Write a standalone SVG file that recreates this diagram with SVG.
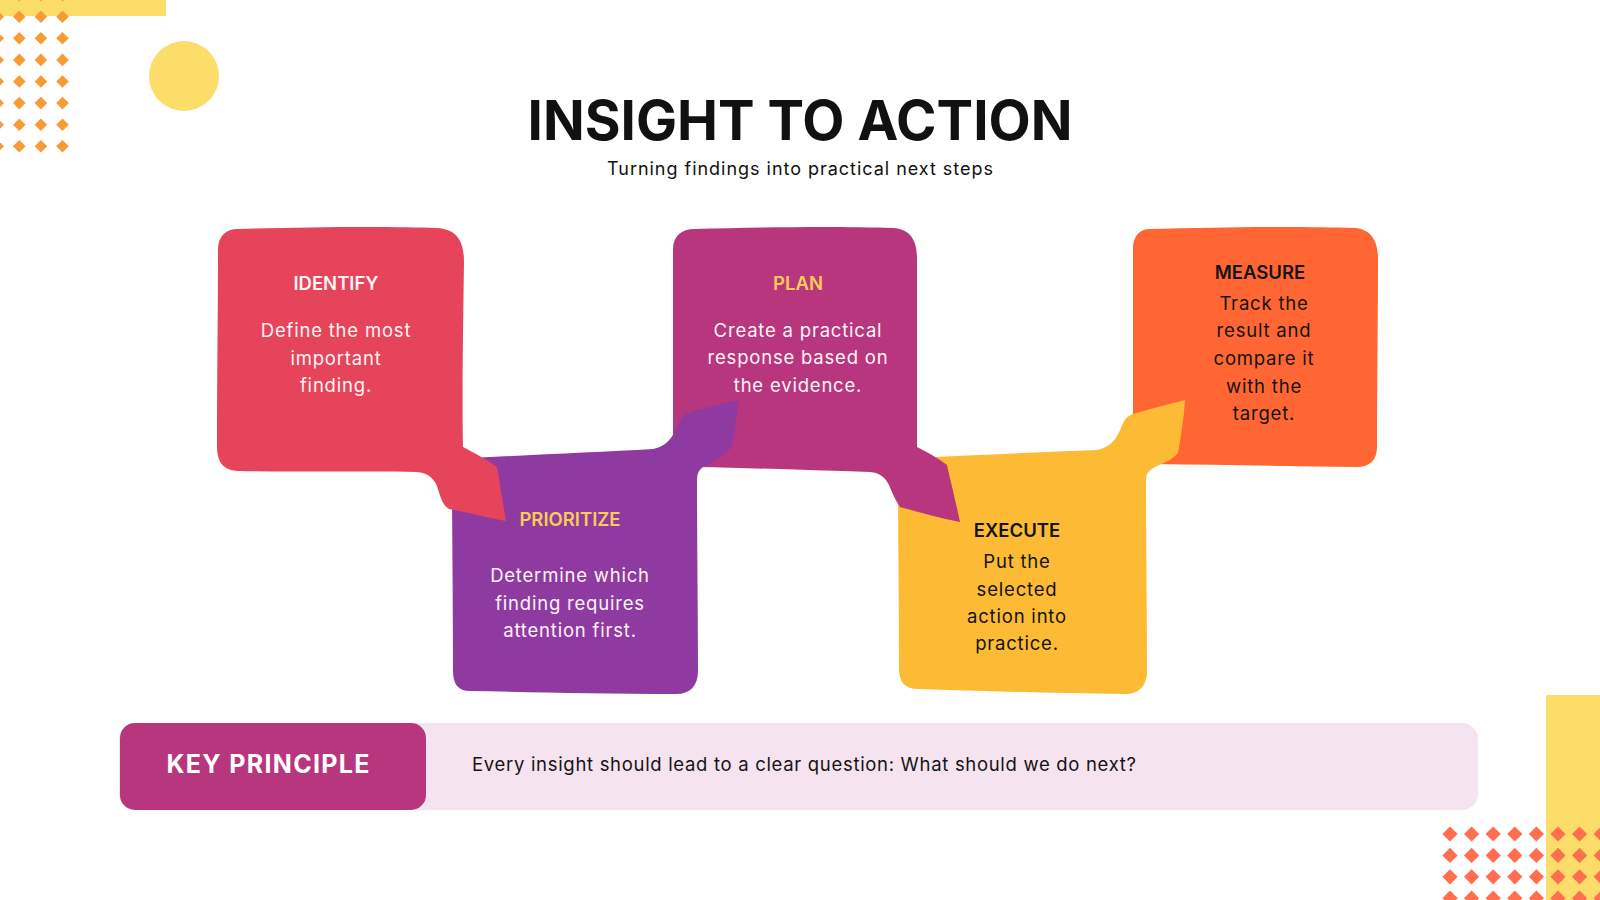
<svg xmlns="http://www.w3.org/2000/svg" xmlns:xlink="http://www.w3.org/1999/xlink" width="1600" height="900" viewBox="0 0 1600 900">
<defs>
<style>
.t{font-family:Inter,"Liberation Sans",sans-serif;}
.title{font-weight:700;font-size:55px;fill:#111;}
.sub{font-size:18px;fill:#111;}
.nt{font-weight:600;font-size:18.5px;text-anchor:middle;}
.nb{font-size:18.5px;letter-spacing:0.8px;text-anchor:middle;}
.w{fill:#FFF4F6;}
.y{fill:#FCCB55;}
.k{fill:#141414;}
</style>
<path id="d1" d="M0,-6.3 L6.3,0 L0,6.3 L-6.3,0 Z" fill="#F89B34"/>
<path id="d2" d="M0,-7.6 L7.6,0 L0,7.6 L-7.6,0 Z" fill="#FF6E4E"/>
</defs>
<rect width="1600" height="900" fill="#FFFFFF"/>

<g id="decor-top-left">
<rect x="0" y="0" width="166" height="16" fill="#FDDD6A"/>
<circle cx="184" cy="76" r="35" fill="#FDDD6A"/>
<g>
<use xlink:href="#d1" x="-2.3" y="-4.9"/><use xlink:href="#d1" x="19.3" y="-4.9"/><use xlink:href="#d1" x="40.9" y="-4.9"/><use xlink:href="#d1" x="62.5" y="-4.9"/>
<use xlink:href="#d1" x="-2.3" y="16.7"/><use xlink:href="#d1" x="19.3" y="16.7"/><use xlink:href="#d1" x="40.9" y="16.7"/><use xlink:href="#d1" x="62.5" y="16.7"/>
<use xlink:href="#d1" x="-2.3" y="38.3"/><use xlink:href="#d1" x="19.3" y="38.3"/><use xlink:href="#d1" x="40.9" y="38.3"/><use xlink:href="#d1" x="62.5" y="38.3"/>
<use xlink:href="#d1" x="-2.3" y="59.9"/><use xlink:href="#d1" x="19.3" y="59.9"/><use xlink:href="#d1" x="40.9" y="59.9"/><use xlink:href="#d1" x="62.5" y="59.9"/>
<use xlink:href="#d1" x="-2.3" y="81.5"/><use xlink:href="#d1" x="19.3" y="81.5"/><use xlink:href="#d1" x="40.9" y="81.5"/><use xlink:href="#d1" x="62.5" y="81.5"/>
<use xlink:href="#d1" x="-2.3" y="103.1"/><use xlink:href="#d1" x="19.3" y="103.1"/><use xlink:href="#d1" x="40.9" y="103.1"/><use xlink:href="#d1" x="62.5" y="103.1"/>
<use xlink:href="#d1" x="-2.3" y="124.7"/><use xlink:href="#d1" x="19.3" y="124.7"/><use xlink:href="#d1" x="40.9" y="124.7"/><use xlink:href="#d1" x="62.5" y="124.7"/>
<use xlink:href="#d1" x="-2.3" y="146.3"/><use xlink:href="#d1" x="19.3" y="146.3"/><use xlink:href="#d1" x="40.9" y="146.3"/><use xlink:href="#d1" x="62.5" y="146.3"/>
</g>
</g>

<g id="decor-bottom-right">
<rect x="1546" y="695" width="54" height="205" fill="#FDDD6A"/>
<g>
<use xlink:href="#d2" x="1450" y="834"/><use xlink:href="#d2" x="1471.6" y="834"/><use xlink:href="#d2" x="1493.2" y="834"/><use xlink:href="#d2" x="1514.8" y="834"/><use xlink:href="#d2" x="1536.4" y="834"/><use xlink:href="#d2" x="1558" y="834"/><use xlink:href="#d2" x="1579.6" y="834"/><use xlink:href="#d2" x="1601.2" y="834"/>
<use xlink:href="#d2" x="1450" y="855.4"/><use xlink:href="#d2" x="1471.6" y="855.4"/><use xlink:href="#d2" x="1493.2" y="855.4"/><use xlink:href="#d2" x="1514.8" y="855.4"/><use xlink:href="#d2" x="1536.4" y="855.4"/><use xlink:href="#d2" x="1558" y="855.4"/><use xlink:href="#d2" x="1579.6" y="855.4"/><use xlink:href="#d2" x="1601.2" y="855.4"/>
<use xlink:href="#d2" x="1450" y="876.8"/><use xlink:href="#d2" x="1471.6" y="876.8"/><use xlink:href="#d2" x="1493.2" y="876.8"/><use xlink:href="#d2" x="1514.8" y="876.8"/><use xlink:href="#d2" x="1536.4" y="876.8"/><use xlink:href="#d2" x="1558" y="876.8"/><use xlink:href="#d2" x="1579.6" y="876.8"/><use xlink:href="#d2" x="1601.2" y="876.8"/>
<use xlink:href="#d2" x="1450" y="898.2"/><use xlink:href="#d2" x="1471.6" y="898.2"/><use xlink:href="#d2" x="1493.2" y="898.2"/><use xlink:href="#d2" x="1514.8" y="898.2"/><use xlink:href="#d2" x="1536.4" y="898.2"/><use xlink:href="#d2" x="1558" y="898.2"/><use xlink:href="#d2" x="1579.6" y="898.2"/><use xlink:href="#d2" x="1601.2" y="898.2"/>
</g>
</g>

<g id="header">
<text class="t title" x="800" y="140" text-anchor="middle" textLength="545" lengthAdjust="spacingAndGlyphs">INSIGHT TO ACTION</text>
<text class="t sub" x="800" y="175" text-anchor="middle" textLength="386">Turning findings into practical next steps</text>
</g>

<g id="node-measure">
<path fill="#FF6633" d="M1150,229 C1220,227 1300,226 1355,228 C1370,229 1378,240 1378,258 C1378,320 1377,390 1377,447 C1377,460 1370,467 1357,467 C1290,466 1220,465 1155,464 C1141,464 1133,456 1133,442 C1133,380 1133,310 1133,248 C1133,236 1140,229 1150,229 Z"/>
<text class="t nt k" x="1260" y="279">MEASURE</text>
<text class="t nb k" x="1264" y="310">Track the</text>
<text class="t nb k" x="1264" y="337">result and</text>
<text class="t nb k" x="1264" y="365">compare it</text>
<text class="t nb k" x="1264" y="393">with the</text>
<text class="t nb k" x="1264" y="420">target.</text>
</g>

<g id="node-execute">
<path fill="#FDBA35" d="M915,458 C980,455 1040,452 1097,450 C1108,448 1116,441 1121,428 C1124,420 1127,416 1133,414 C1150,409 1168,404 1185,400 C1184,418 1181,436 1178,453 C1172,460 1164,463 1157,466 C1150,469 1146,473 1146,480 C1146,540 1147,610 1147,670 C1147,686 1139,694 1125,694 C1050,693 980,691 918,689 C905,689 899,682 899,669 C899,600 898,530 898,475 C898,464 904,458 915,458 Z"/>
<text class="t nt k" x="1017" y="537">EXECUTE</text>
<text class="t nb k" x="1017" y="568">Put the</text>
<text class="t nb k" x="1017" y="596">selected</text>
<text class="t nb k" x="1017" y="623">action into</text>
<text class="t nb k" x="1017" y="650">practice.</text>
</g>

<g id="node-plan">
<path fill="#B8367E" d="M695,229 C760,227 840,226 893,228 C910,229 917,240 917,258 C917,320 917,390 917,447 C927,452 938,458 947,465 C951,483 956,503 960,522 C940,518 918,512 900,507 C895,500 892,492 889,485 C885,477 880,473 870,472 C810,470 750,468 697,467 C682,467 673,460 673,445 C673,380 673,310 673,250 C673,236 681,229 695,229 Z"/>
<text class="t nt y" x="798" y="290">PLAN</text>
<text class="t nb w" x="798" y="337">Create a practical</text>
<text class="t nb w" x="798" y="364">response based on</text>
<text class="t nb w" x="798" y="392">the evidence.</text>
</g>

<g id="node-prioritize">
<path fill="#8F3AA1" d="M470,458 C530,455 600,452 653,449 C664,447 672,440 678,425 C681,418 684,414 690,412 C706,408 722,403 738,400 C737,415 735,432 732,446 C726,455 716,461 707,465 C700,468 697,472 697,480 C697,540 698,610 698,671 C698,686 690,694 676,694 C600,694 530,692 470,691 C458,691 453,684 453,671 C453,600 452,530 452,475 C452,464 458,458 470,458 Z"/>
<text class="t nt y" x="570" y="526">PRIORITIZE</text>
<text class="t nb w" x="570" y="582">Determine which</text>
<text class="t nb w" x="570" y="610">finding requires</text>
<text class="t nb w" x="570" y="637">attention first.</text>
</g>

<g id="node-identify">
<path fill="#E5445A" d="M238,229 C300,227 390,226 437,228 C456,229 464,240 464,262 C463,330 462,400 463,447 C474,453 488,460 497,467 C500,485 503,503 506,521 C488,518 466,512 449,509 C442,505 440,495 437,486 C433,477 427,473 417,472 C360,471 290,472 240,471 C224,471 217,463 217,446 C217,380 218,310 218,250 C218,236 226,229 238,229 Z"/>
<text class="t nt w" x="336" y="290">IDENTIFY</text>
<text class="t nb w" x="336" y="337">Define the most</text>
<text class="t nb w" x="336" y="365">important</text>
<text class="t nb w" x="336" y="392">finding.</text>
</g>

<g id="key-principle">
<rect x="119" y="723" width="1359" height="87" rx="16" fill="#F5E3EF"/>
<rect x="120" y="723" width="306" height="87" rx="15" fill="#B8367E"/>
<text class="t" x="268" y="773" text-anchor="middle" font-size="25" font-weight="700" fill="#FFFFFF" textLength="203">KEY PRINCIPLE</text>
<text class="t" x="472" y="771" font-size="18.5" fill="#141414" textLength="664">Every insight should lead to a clear question: What should we do next?</text>
</g>
</svg>
